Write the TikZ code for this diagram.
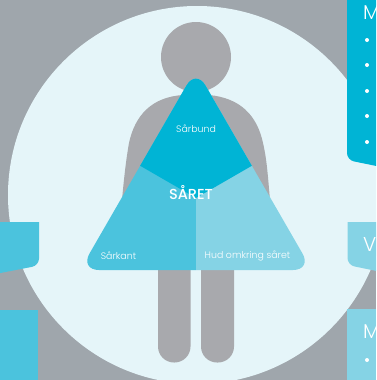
\documentclass[tikz,border=0pt]{standalone}
\usepackage{fontspec}
\setmainfont{Poppins Light}
\newfontfamily\medf{Poppins Medium}
\definecolor{bgc}{HTML}{9FA6AC}
\definecolor{circ}{HTML}{E5F5F9}
\definecolor{fig}{HTML}{A8A9AD}
\definecolor{dark}{HTML}{00B4D5}
\definecolor{midc}{HTML}{4BC3DD}
\definecolor{lite}{HTML}{85D3E5}
\tikzset{
  lbl/.style={text=white,inner sep=0pt,font=\fontsize{9.4}{11}\selectfont},
  head/.style={text=white,inner sep=0pt,anchor=west,font=\fontsize{20}{22}\selectfont},
  dotb/.style={circle,fill=white,inner sep=0pt,minimum size=4pt}
}
\begin{document}
\begin{tikzpicture}[x=1pt,y=-1pt]
\useasboundingbox (0,0) rectangle (376,380);
\clip (0,0) rectangle (376,380);
\fill[bgc] (0,0) rectangle (376,380);
\fill[circ] (197,195) circle[radius=189];
% figure
\fill[fig] (196,57) circle[radius=35];
\fill[fig] (183,95) .. controls (152,97) and (135,115) .. (129,143)
  .. controls (126,160) and (124,178) .. (122,200) -- (270,200)
  .. controls (268,178) and (267,160) .. (263,143)
  .. controls (257,115) and (240,98) .. (209,95) -- cycle;
\fill[fig,rounded corners=16] (158,250) -- (158,362.5) -- (190.5,362.5) -- (190.5,250) -- cycle;
\fill[fig,rounded corners=16] (201,250) -- (201,362.5) -- (234,362.5) -- (234,250) -- cycle;
% triangle
\begin{scope}
  \clip[rounded corners=19] (196,69) -- (312,270) -- (80,270) -- cycle;
  \fill[midc] (60,60) rectangle (196,280);
  \fill[lite] (196,60) rectangle (330,280);
  \fill[dark] (196,198) -- (100,142.6) -- (100,60) -- (292,60) -- (292,142.6) -- cycle;
\end{scope}
\node[lbl] (bund) at (196,129) {Sårbund};
\node[lbl] (kant) at (118.5,256) {Sårkant};
\node[lbl] (hud) at (247.5,256) {Hud omkring såret};
\node[text=white,inner sep=0pt,font=\fontsize{14.5}{17}\medf] (saret) at (191,193) {SÅRET};
% side panels
\begin{scope}
  \clip (0,222) rectangle (39,280);
  \fill[midc,rounded corners=7] (-20,200) -- (39,200) -- (39,265.5) -- (-20,277) -- cycle;
\end{scope}
\fill[midc] (0,310) rectangle (38,380);
\fill[dark,rounded corners=7] (347,-20) -- (347,160) -- (396,170) -- (396,-20) -- cycle;
\begin{scope}
  \clip (347,222) rectangle (376,280);
  \fill[lite,rounded corners=7] (347.5,200) -- (347.5,265) -- (396,275) -- (396,200) -- cycle;
\end{scope}
\fill[lite] (347,309) rectangle (376,380);
\node[head] (m1) at (363,13) {M};
\node[head] (v) at (363,245) {V};
\node[head] (m2) at (363,332) {M};
\node[dotb] (d1) at (367,40) {};
\node[dotb] (d2) at (367,65) {};
\node[dotb] (d3) at (367,91) {};
\node[dotb] (d4) at (367,116) {};
\node[dotb] (d5) at (367,142) {};
\node[dotb] (d6) at (367,360) {};
\end{tikzpicture}
\end{document}
